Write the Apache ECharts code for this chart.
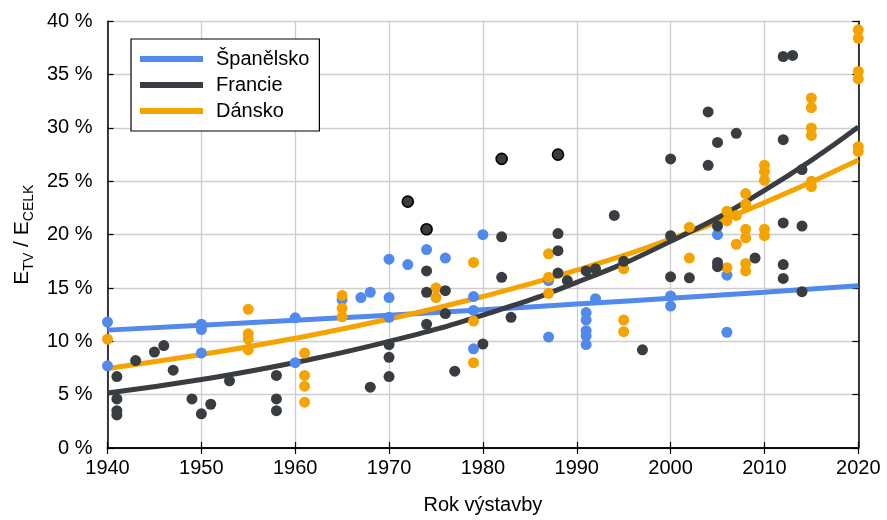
<!DOCTYPE html>
<html>
<head>
<meta charset="utf-8">
<script src="https://cdn.jsdelivr.net/npm/echarts@6/dist/echarts.min.js"></script>
<style>
  html, body { margin: 0; padding: 0; background: #fff; }
  #chart { width: 887px; height: 520px; }
</style>
</head>
<body>
<div id="chart"></div>
<script>
// Share of TV energy in total energy by year of construction, three countries.
const countries = ['Španělsko', 'Francie', 'Dánsko'];

// Measured buildings: [year of construction, share in %]
const spainPoints = [
  [1940, 11.8], [1940, 7.7], [1950, 11.6], [1950, 11.1], [1950, 8.9],
  [1960, 12.2], [1960, 8.0], [1965, 13.9], [1967, 14.1], [1968, 14.6],
  [1970, 17.7], [1970, 14.1], [1970, 12.25], [1972, 17.2], [1974, 18.6],
  [1976, 17.8], [1979, 14.2], [1979, 12.9], [1979, 9.3], [1980, 20.0],
  [1987, 15.7], [1987, 10.4], [1991, 12.7], [1991, 12.0], [1991, 11.0],
  [1991, 10.5], [1991, 9.7], [1992, 14.0], [2000, 14.25], [2000, 13.3],
  [2005, 20.0], [2006, 16.2], [2006, 10.85]
];

const francePoints = [
  [1941, 6.7], [1941, 4.6], [1941, 3.5], [1941, 3.1], [1943, 8.2],
  [1945, 9.0], [1946, 9.6], [1947, 7.3], [1949, 4.6], [1950, 3.2],
  [1951, 4.1], [1953, 6.3], [1958, 6.8], [1958, 4.6], [1958, 3.5],
  [1968, 5.7], [1970, 9.7], [1970, 8.5], [1970, 6.7], [1974, 16.6],
  [1974, 14.6], [1974, 11.6], [1976, 14.75], [1976, 12.6], [1977, 7.2],
  [1980, 9.75], [1982, 19.8], [1982, 16.0], [1983, 12.25], [1988, 20.1],
  [1988, 18.5], [1988, 16.4], [1989, 15.7], [1991, 16.6], [1992, 16.8],
  [1994, 21.8], [1995, 17.5], [1997, 9.2], [2000, 27.1], [2000, 19.9],
  [2000, 16.05], [2002, 15.95], [2004, 31.5], [2004, 26.5], [2005, 28.65],
  [2005, 20.8], [2005, 17.4], [2005, 17.0], [2007, 29.5], [2009, 17.8],
  [2012, 36.7], [2013, 36.8], [2012, 28.9], [2012, 21.1], [2012, 17.2],
  [2012, 15.9], [2014, 26.1], [2014, 20.8], [2014, 14.65]
];
// French buildings drawn with a dark outline
const franceOutlinedPoints = [
  [1972, 23.1], [1974, 20.5], [1982, 27.1], [1988, 27.5]
];

const denmarkPoints = [
  [1940, 10.2], [1955, 13.0], [1955, 10.7], [1955, 10.2], [1955, 9.2],
  [1961, 8.9], [1961, 6.8], [1961, 5.8], [1961, 4.3], [1965, 14.3],
  [1965, 13.1], [1965, 12.3], [1975, 15.0], [1975, 14.1], [1979, 17.4],
  [1979, 11.9], [1979, 8.0], [1987, 18.2], [1987, 16.0], [1987, 14.5],
  [1995, 16.8], [1995, 12.0], [1995, 10.9], [2002, 20.7], [2002, 17.8],
  [2006, 22.2], [2006, 21.3], [2006, 16.9], [2007, 21.8], [2007, 19.1],
  [2008, 23.85], [2008, 22.85], [2008, 20.5], [2008, 19.7], [2008, 17.3],
  [2008, 16.6], [2010, 26.5], [2010, 25.9], [2010, 25.1], [2010, 20.5],
  [2010, 19.9], [2015, 32.8], [2015, 31.9], [2015, 30.0], [2015, 29.3],
  [2015, 25.0], [2015, 24.5], [2020, 39.2], [2020, 38.4], [2020, 35.3],
  [2020, 34.6], [2020, 28.25], [2020, 27.8]
];

// Trend curves, sampled once per decade
const trendYears = [1940, 1950, 1960, 1970, 1980, 1990, 2000, 2010, 2020];
const spainTrend = [11.05, 11.5, 11.97, 12.45, 12.96, 13.49, 14.04, 14.61, 15.2];
const franceTrend = [5.15, 6.42, 8.01, 9.99, 12.46, 15.53, 19.37, 24.15, 30.1];
const denmarkTrend = [7.46, 8.76, 10.29, 12.09, 14.2, 16.68, 19.59, 23.0, 27.0];

// Axis ticks
const xTicks = { min: 1940, max: 2020, step: 10 };
const yTicks = { min: 0, max: 40, step: 5 };

const COLORS = { spain: '#5189ec', france: '#393d42', denmark: '#f5a300' };
const FONT = "'Liberation Sans Narrow', 'Arial Narrow', 'Liberation Sans', Arial, sans-serif";
const TICK_FONT = 20;
const TEXT_FONT = 20;

const pair = (xs, ys) => xs.map((x, i) => [x, ys[i]]);

const chart = echarts.init(document.getElementById('chart'), null, { renderer: 'canvas' });

const frameAxisX = (pos, showLabel) => ({
  type: 'value', position: pos,
  min: xTicks.min, max: xTicks.max, interval: xTicks.step,
  axisLine: { show: true, lineStyle: { color: '#000', width: 1.5 } },
  axisTick: { show: true, inside: true, length: 6, lineStyle: { color: '#000', width: 1.2 } },
  axisLabel: { show: showLabel, color: '#000', fontSize: TICK_FONT, fontFamily: FONT, margin: 10,
    formatter: (v) => String(v) },
  splitLine: { show: showLabel, lineStyle: { color: '#cdcdcd', width: 1.3 } }
});
const frameAxisY = (pos, showLabel) => ({
  type: 'value', position: pos,
  min: yTicks.min, max: yTicks.max, interval: yTicks.step,
  axisLine: { show: true, lineStyle: { color: '#000', width: 1.5 } },
  axisTick: { show: true, inside: true, length: 6, lineStyle: { color: '#000', width: 1.2 } },
  axisLabel: { show: showLabel, color: '#000', fontSize: TICK_FONT, fontFamily: FONT, margin: 15,
    formatter: (v) => v + ' %' },
  splitLine: { show: showLabel, lineStyle: { color: '#cdcdcd', width: 1.3 } }
});

const xMain = Object.assign(frameAxisX('bottom', true), {
  name: 'Rok výstavby', nameLocation: 'middle', nameGap: 47,
  nameTextStyle: { color: '#000', fontSize: TEXT_FONT, fontFamily: FONT }
});
const yMain = Object.assign(frameAxisY('left', true), {
  name: '{m|E}{s|TV}{m| / E}{s|CELK}', nameLocation: 'middle', nameGap: 70,
  nameTextStyle: {
    color: '#000', fontFamily: FONT,
    rich: {
      m: { fontSize: 21, fontFamily: FONT, color: '#000', lineHeight: 28, verticalAlign: 'middle' },
      s: { fontSize: 14, fontFamily: FONT, color: '#000', lineHeight: 28, verticalAlign: 'bottom' }
    }
  }
});

const scatter = (name, data, color, extra) => Object.assign({
  name, type: 'scatter', data, symbol: 'circle', symbolSize: 11,
  itemStyle: { color, opacity: 1 }, z: 5, silent: true
}, extra || {});

const trend = (name, data, color, z) => ({
  name, type: 'line', data, smooth: true, showSymbol: false, symbol: 'none',
  lineStyle: { color, width: 5 }, itemStyle: { color }, z, silent: true
});

chart.setOption({
  animation: false,
  backgroundColor: '#fff',
  grid: { left: 107.5, right: 28.7, top: 21.3, bottom: 66.7, containLabel: false },
  xAxis: [xMain, frameAxisX('top', false)],
  yAxis: [yMain, frameAxisY('right', false)],
  legend: {
    data: countries,
    orient: 'vertical', left: 131, top: 39,
    padding: [9, 10, 9, 9], itemGap: 4,
    itemWidth: 63, itemHeight: 6, icon: 'rect',
    backgroundColor: '#fff', borderColor: '#000', borderWidth: 1.2, borderRadius: 0,
    textStyle: { color: '#000', fontSize: TEXT_FONT, fontFamily: FONT, lineHeight: 22, padding: [0, 0, 0, 8] },
    selectedMode: false, z: 10
  },
  series: [
    trend(countries[0], pair(trendYears, spainTrend), COLORS.spain, 2),
    trend(countries[2], pair(trendYears, denmarkTrend), COLORS.denmark, 3),
    trend(countries[1], pair(trendYears, franceTrend), COLORS.france, 4),
    scatter('Španělsko – budovy', spainPoints, COLORS.spain),
    scatter('Dánsko – budovy', denmarkPoints, COLORS.denmark),
    scatter('Francie – budovy', francePoints, COLORS.france),
    scatter('Francie – budovy (zvýrazněné)', franceOutlinedPoints, COLORS.france, {
      itemStyle: { color: COLORS.france, borderColor: '#000', borderWidth: 1.6, opacity: 1 }
    })
  ]
});
</script>
</body>
</html>
